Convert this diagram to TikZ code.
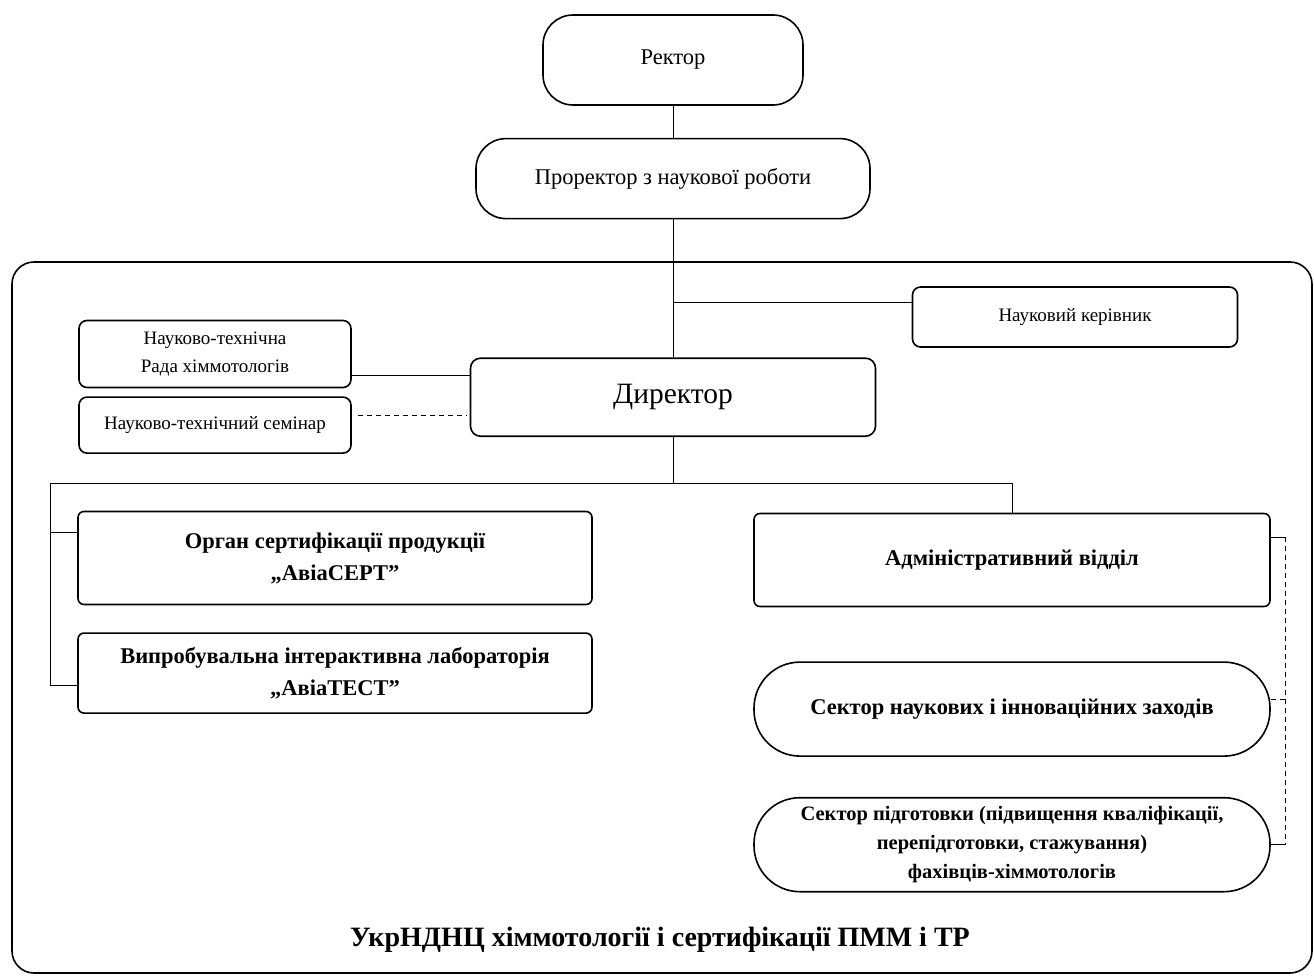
\documentclass[tikz,border=0pt]{standalone}
\usepackage{fontspec}
\setmainfont{Liberation Serif}
\usetikzlibrary{positioning}

\begin{document}
\begin{tikzpicture}[x=1pt, y=-1pt,
  box/.style={rectangle, draw, line width=1.6pt, rounded corners=8pt, align=center, inner sep=2pt},
  headbox/.style={box, rounded corners=30pt, font=\fontsize{22.5}{26}\selectfont},
  smallbox/.style={box, minimum width=272pt, font=\fontsize{19}{28}\selectfont},
  unitbox/.style={box, rounded corners=6pt, minimum width=514pt, font=\fontsize{22.5}{32}\selectfont\bfseries},
  sectorbox/.style={box, rounded corners=46pt, minimum width=516pt, minimum height=94pt},
  conn/.style={line width=0.8pt},
  dashconn/.style={conn, dash pattern=on 5pt off 4pt}
]
  \useasboundingbox (0,0) rectangle (1314,977);

  % top of the hierarchy
  \node[headbox, minimum width=260pt, minimum height=90pt] (rector) at (673,60) {Ректор};
  \node[headbox, minimum width=394pt, minimum height=80pt, below=32pt of rector] (prorector) {Проректор з наукової роботи};

  % centre frame
  \draw[line width=1.6pt, rounded corners=22pt] (12,262) rectangle (1312,973);
  \node[font=\fontsize{28}{32}\selectfont\bfseries] (centre) at (660,940) {УкрНДНЦ хіммотології і сертифікації ПММ і ТР};

  \node[box, rounded corners=10pt, minimum width=405pt, minimum height=78pt, below=138pt of prorector, font=\fontsize{29.5}{34}\selectfont] (director) {Директор};
  \node[box, minimum width=325pt, minimum height=60pt, font=\fontsize{19}{22}\selectfont] (kerivnyk) at (1075,317) {Науковий керівник};
  \node[smallbox, minimum height=67pt] (rada) at (215,354) {Науково-технічна\\ Рада хіммотологів};
  \node[smallbox, minimum height=56pt, below=8pt of rada] (seminar) {Науково-технічний семінар};

  % subdivisions
  \node[unitbox, minimum height=93pt] (organ) at (335,558) {Орган сертифікації продукції\\ „АвіаСЕРТ”};
  \node[unitbox, minimum height=80pt, below=27pt of organ] (vyprob) {Випробувальна інтерактивна лабораторія\\ „АвіаТЕСТ”};
  \node[unitbox, minimum width=516pt, minimum height=93pt] (admin) at (1012,560) {Адміністративний відділ};
  \node[sectorbox, below=54pt of admin, font=\fontsize{22.5}{30}\selectfont\bfseries] (sector1) {Сектор наукових і інноваційних заходів};
  \node[sectorbox, below=40pt of sector1, font=\fontsize{20.5}{29}\selectfont\bfseries] (sector2) {Сектор підготовки (підвищення кваліфікації,\\ перепідготовки, стажування)\\ фахівців-хіммотологів};

  \coordinate (lbus) at (50,483);
  \coordinate (rbus) at (1285,537);

  \draw[conn] (rector) -- (prorector);
  \draw[conn] (prorector) -- (director);
  \draw[conn] ([yshift=15pt]kerivnyk.west) -| (prorector.south);
  \coordinate (radaout) at ([yshift=-21pt]rada.east);
  \draw[conn] (radaout) -- (radaout -| director.west);
  \coordinate (seminarout) at ([shift={(6pt,10pt)}]seminar.east);
  \draw[dashconn] (seminarout) -- ([xshift=-3pt]seminarout -| director.west);

  \draw[conn] (director.south) -- (director.south |- lbus);
  \draw[conn] (admin.north) |- (lbus);
  \draw[conn] ([yshift=26pt]organ.west) -| (lbus);
  \draw[conn] ([yshift=-12pt]vyprob.west) -| (lbus);

  \draw[conn] ([yshift=23pt]admin.east) -- (rbus);
  \draw[dashconn] (rbus) -- (rbus |- sector2.east);
  \draw[conn] (rbus |- sector2.east) -- (sector2.east);
  \draw[dashconn] ([yshift=10pt]sector1.east) -| (rbus);
\end{tikzpicture}
\end{document}
